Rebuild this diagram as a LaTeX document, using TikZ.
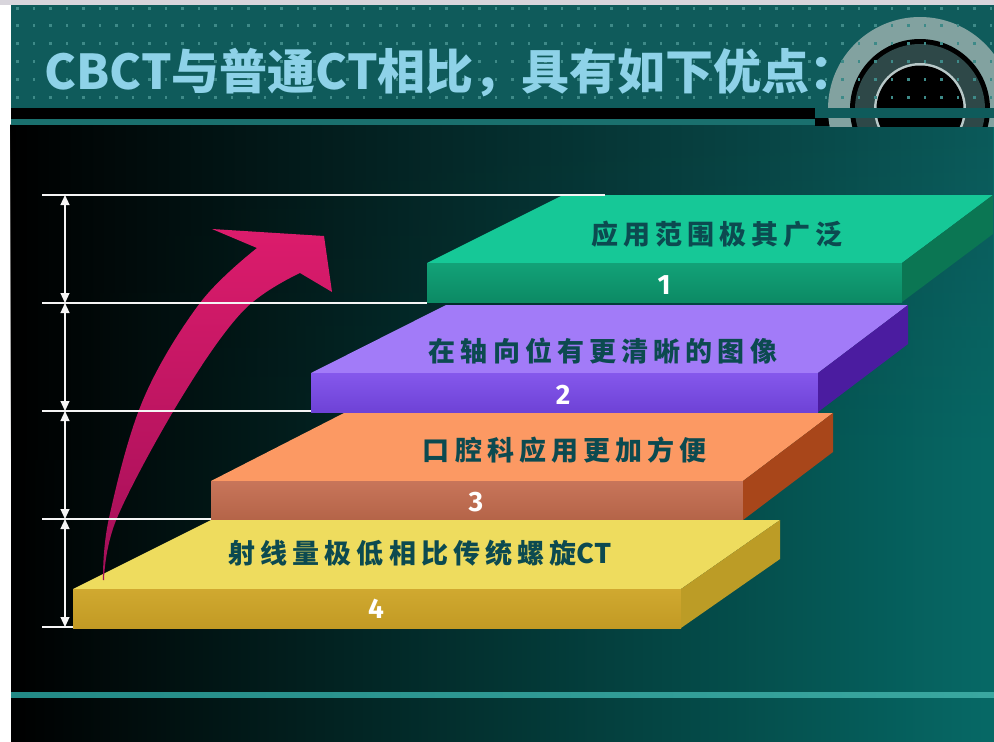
\documentclass[tikz,border=0pt]{standalone}
\usepackage{fontspec}
\setmainfont{Noto Sans CJK SC}
\newfontfamily\cjkfont{Noto Sans CJK SC}
\newfontfamily\slabfont{Noto Sans CJK SC}[LetterSpace=19]
\newfontfamily\plainfont{Noto Sans CJK SC}
\newfontfamily\numfont{Fira Sans}
\usetikzlibrary{arrows.meta,fadings}

% palette
\definecolor{hdrteal}{HTML}{0F5B5B}
\definecolor{hdrdot}{HTML}{3E8A88}
\definecolor{topstrip}{HTML}{D8D5DC}
\definecolor{stripe}{HTML}{1A706E}
\definecolor{bgteal}{HTML}{066966}
\definecolor{bgmid}{HTML}{023636}
\definecolor{bgtop}{HTML}{0B5A5A}
\definecolor{lineteal}{HTML}{3AA7A0}
\definecolor{lineleft}{HTML}{238A86}
\definecolor{ringlight}{HTML}{82A2A0}
\definecolor{ringdark}{HTML}{2E4848}
\definecolor{ringline}{HTML}{B8C8C8}
\definecolor{titleblue}{HTML}{8ED2E8}
\definecolor{slabtext}{HTML}{0C4A50}
\definecolor{pinktop}{HTML}{DC1C6C}
\definecolor{pinkbot}{HTML}{A30F58}
\definecolor{gtop}{HTML}{16C897}
\definecolor{gfronta}{HTML}{12A278}
\definecolor{gfrontb}{HTML}{0C8A64}
\definecolor{gside}{HTML}{0B7653}
\definecolor{ptop}{HTML}{A27BF8}
\definecolor{pfronta}{HTML}{8558EC}
\definecolor{pfrontb}{HTML}{6E42D6}
\definecolor{pside}{HTML}{4B1CA0}
\definecolor{otop}{HTML}{FC9963}
\definecolor{ofronta}{HTML}{C8755A}
\definecolor{ofrontb}{HTML}{B46448}
\definecolor{oside}{HTML}{A8461A}
\definecolor{ytop}{HTML}{EEDC5E}
\definecolor{yfronta}{HTML}{D0A930}
\definecolor{yfrontb}{HTML}{C29A24}
\definecolor{yside}{HTML}{BC9C26}

\tikzfading[name=fadetopdown, top color=transparent!0, bottom color=transparent!100]

\begin{document}
\begin{tikzpicture}[x=1pt,y=-1pt,
  dimline/.style={draw=white!92!gray, line width=1.2pt},
  dimarrow/.style={draw=white!92!gray, line width=1.2pt,
    {Triangle[width=9pt,length=10pt]}-{Triangle[width=9pt,length=10pt]}},
  slabtxt/.style={text=slabtext, inner sep=0pt,
    font=\slabfont\bfseries\fontsize{27}{30}\selectfont},
  slabnum/.style={text=white, inner sep=0pt,
    font=\numfont\bfseries\fontsize{28}{30}\selectfont},
]
\useasboundingbox (0,0) rectangle (994,742);

% ---- page and background ----
\fill[white] (0,0) rectangle (994,742);
\fill[topstrip] (0,0) rectangle (994,5);
\shade[left color=black, middle color=bgmid, right color=bgteal]
  (11,125) rectangle (994,742);
\shade[left color=black, middle color=black, right color=bgtop,
  path fading=fadetopdown] (11,125) rectangle (994,460);
\shade[left color=lineleft, right color=lineteal] (11,692) rectangle (994,697);

% ---- header band ----
\fill[hdrteal] (11,5) rectangle (994,108);
\fill[black] (815,118) rectangle (994,126);
\begin{scope}
  \clip (800,5) rectangle (994,126);
  \fill[ringlight] (920,109) circle (92);
  \fill[black] (920,109) circle (70);
  \fill[ringdark] (920,109) circle (65);
  \fill[ringline] (920,109) circle (46);
  \fill[black] (920,109) circle (43.5);
\end{scope}
\fill[hdrteal] (815,108) rectangle (994,118);
\foreach \i in {0,...,59}
  \foreach \j in {0,...,5}
    \fill[hdrdot] ({17.5+\i*16.5-1.3},{6.5+\j*17.8}) rectangle +(2.6,3);
\fill[black] (11,108) rectangle (815,119);
\fill[stripe] (11,119) rectangle (815,125);

\node[anchor=west, text=titleblue, inner sep=0pt,
  font=\cjkfont\bfseries\fontsize{48}{56}\selectfont] (title) at (44,73)
  {CBCT与普通CT相比，具有如下优点：};

% ---- slabs ----
% 1 green
\fill[gtop] (563,195) -- (993,195) -- (902,263) -- (427,263) -- cycle;
\shade[top color=gfronta, bottom color=gfrontb] (427,263) rectangle (902,302);
\fill[gside] (902,263) -- (993,195) -- (993,234) -- (902,302) -- cycle;
% 2 purple
\fill[ptop] (446,305) -- (908,305) -- (818,373) -- (311,373) -- cycle;
\shade[top color=pfronta, bottom color=pfrontb] (311,373) rectangle (818,412);
\fill[pside] (818,373) -- (908,305) -- (908,344) -- (818,412) -- cycle;
% 3 orange
\fill[otop] (344,413) -- (833,413) -- (743,481) -- (211,481) -- cycle;
\shade[top color=ofronta, bottom color=ofrontb] (211,481) rectangle (743,520);
\fill[oside] (743,481) -- (833,413) -- (833,452) -- (743,520) -- cycle;
% 4 yellow
\fill[ytop] (211,520) -- (780,520) -- (681,589) -- (73,589) -- cycle;
\shade[top color=yfronta, bottom color=yfrontb] (73,589) rectangle (681,628);
\fill[yside] (681,589) -- (780,520) -- (780,559) -- (681,628) -- cycle;

\node[slabtxt] (t1) at (717,234) {应用范围极其广泛};
\node[slabtxt] (t2) at (603,351) {在轴向位有更清晰的图像};
\node[slabtxt] (t3) at (565,450) {口腔科应用更加方便};
\node[slabtxt] (t4) at (420,553) {射线量极低相比传统螺旋{\plainfont\bfseries CT}};
\node[slabnum] (n1) at (664,285) {1};
\node[slabnum] (n2) at (563,395) {2};
\node[slabnum] (n3) at (476,502) {3};
\node[slabnum] (n4) at (376,609) {4};

% ---- rising arrow ----
\shade[top color=pinktop, bottom color=pinkbot]
  plot[smooth, tension=0.6] coordinates {(103,580) (109,518) (143,400) (200,303) (257,248)}
  -- (212,229) -- (324,236) -- (332,292) -- (300,273)
  -- plot[smooth, tension=0.6] coordinates {(300,273) (243,311) (180,400) (117,518) (104,580)}
  -- cycle;

% ---- dimension lines ----
\coordinate (a0) at (42,195); \coordinate (b0) at (605,195);
\coordinate (a1) at (42,303); \coordinate (b1) at (427,303);
\coordinate (a2) at (42,411); \coordinate (b2) at (311,411);
\coordinate (a3) at (42,519); \coordinate (b3) at (211,519);
\coordinate (a4) at (42,627); \coordinate (b4) at (73,627);
\foreach \k in {0,...,4} \draw[dimline] (a\k) -- (b\k);
\coordinate (d0) at (65,195);
\coordinate (d1) at (65,303);
\coordinate (d2) at (65,411);
\coordinate (d3) at (65,519);
\coordinate (d4) at (65,627);
\draw[dimarrow] (d0) -- (d1);
\draw[dimarrow] (d1) -- (d2);
\draw[dimarrow] (d2) -- (d3);
\draw[dimarrow] (d3) -- (d4);
\end{tikzpicture}
\end{document}
